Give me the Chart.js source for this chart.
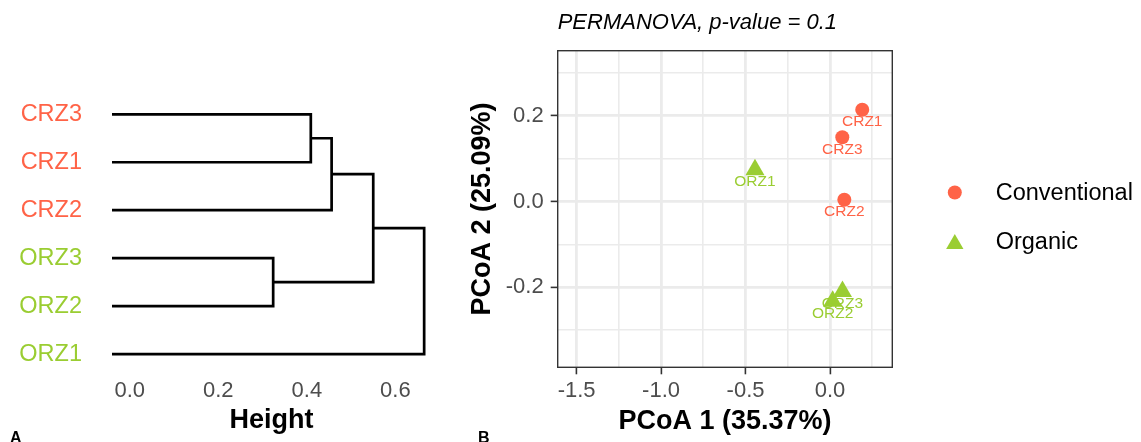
<!DOCTYPE html>
<html>
<head>
<meta charset="utf-8">
<script src="https://cdn.jsdelivr.net/npm/chart.js@4.4.1/dist/chart.umd.min.js"></script>
<style>
  html, body { margin: 0; padding: 0; background: #fff; }
  #wrap { position: relative; width: 1141px; height: 442px; overflow: hidden; }
  canvas { position: absolute; top: 0; }
  #dendro { left: 0; }
  #pcoa { left: 470px; }
</style>
</head>
<body>
<div id="wrap">
  <canvas id="dendro" width="470" height="442"></canvas>
  <canvas id="pcoa" width="671" height="442"></canvas>
</div>
<script>
const FONT = '"Liberation Sans", Arial, Helvetica, sans-serif';
const groupColors = { Conventional: '#FF6347', Organic: '#9ACD32' };

// Panel A: dendrogram, leaves listed top to bottom
const leafNames = ['CRZ3', 'CRZ1', 'CRZ2', 'ORZ3', 'ORZ2', 'ORZ1'];
const leafGroups = ['Conventional', 'Conventional', 'Conventional', 'Organic', 'Organic', 'Organic'];
const leafHeight = -0.04;
// hclust style merge table: negative = leaf number, positive = earlier merge
const mergeLeft = [-1, 1, -4, 2, 4];
const mergeRight = [-2, -3, -5, 3, -6];
const mergeHeights = [0.409, 0.456, 0.324, 0.550, 0.665];
const heightTicks = [0, 0.2, 0.4, 0.6];

// Panel B: PCoA
const sampleNames = ['CRZ1', 'CRZ2', 'CRZ3', 'ORZ1', 'ORZ2', 'ORZ3'];
const sampleGroups = ['Conventional', 'Conventional', 'Conventional', 'Organic', 'Organic', 'Organic'];
const pcoa1 = [0.191, 0.085, 0.073, -0.444, 0.016, 0.074];
const pcoa2 = [0.214, 0.004, 0.150, 0.074, -0.233, -0.210];
const groupNames = ['Conventional', 'Organic'];
const groupShapes = ['circle', 'triangle'];
const groupSizes = [7, 11];
const pc1Breaks = [-1.5, -1.0, -0.5, 0.0];
const pc1Minor = [-1.25, -0.75, -0.25, 0.25];
const pc2Breaks = [-0.2, 0.0, 0.2];
const pc2Minor = [-0.3, -0.1, 0.1, 0.3];

const isBreak = (list, v) => list.some(b => Math.abs(b - v) < 1e-9);

// ---- dendrogram segments from the merge table ----
const nLeaves = leafNames.length;
const nodeY = [];
function childPos(id) {
  if (id < 0) return { x: leafHeight, y: nLeaves + 1 + id };
  return { x: mergeHeights[id - 1], y: nodeY[id - 1] };
}
const dendroSets = mergeHeights.map((h, i) => {
  const a = childPos(mergeLeft[i]);
  const b = childPos(mergeRight[i]);
  nodeY[i] = (a.y + b.y) / 2;
  return {
    data: [{ x: a.x, y: a.y }, { x: h, y: a.y }, { x: h, y: b.y }, { x: b.x, y: b.y }],
    showLine: true,
    pointRadius: 0,
    borderColor: '#000',
    borderWidth: 2.7,
    tension: 0,
    fill: false,
    clip: false
  };
});

const panelTag = (tag, x) => ({
  id: 'tag' + tag,
  afterDraw(chart) {
    const ctx = chart.ctx;
    ctx.save();
    ctx.font = 'bold 16px ' + FONT;
    ctx.fillStyle = '#000';
    ctx.textAlign = 'left';
    ctx.textBaseline = 'alphabetic';
    ctx.fillText(tag, x, 443);
    ctx.restore();
  }
});

new Chart(document.getElementById('dendro'), {
  type: 'scatter',
  data: { datasets: dendroSets },
  options: {
    responsive: false,
    animation: false,
    layout: { padding: { top: 90.3, right: 39.2, left: 0, bottom: 0 } },
    plugins: { legend: { display: false }, tooltip: { enabled: false } },
    scales: {
      x: {
        type: 'linear',
        min: -0.04,
        max: 0.68,
        afterBuildTicks: s => { s.ticks = heightTicks.map(v => ({ value: v })); },
        afterFit: s => { s.height = 64; },
        ticks: {
          callback: v => v.toFixed(1),
          color: '#4D4D4D',
          font: { family: FONT, size: 22 },
          padding: 0,
          maxRotation: 0
        },
        grid: { display: false, drawTicks: false },
        border: { display: false },
        title: {
          display: true,
          text: 'Height',
          color: '#000',
          font: { family: FONT, size: 27, weight: 'bold', lineHeight: 1 },
          padding: { top: 0, bottom: 7.7 }
        }
      },
      y: {
        type: 'linear',
        min: 0.5,
        max: nLeaves + 0.5,
        afterBuildTicks: s => { s.ticks = leafNames.map((n, i) => ({ value: nLeaves - i })); },
        afterFit: s => { s.width = 112; },
        ticks: {
          callback: v => leafNames[nLeaves - v],
          color: c => groupColors[leafGroups[nLeaves - c.tick.value]],
          font: { family: FONT, size: 23.5 },
          padding: 30
        },
        grid: { display: false, drawTicks: false },
        border: { display: false }
      }
    }
  },
  plugins: [panelTag('A', 10)]
});

// ---- PCoA scatter ----
const pcoaSets = groupNames.map((g, gi) => ({
  label: g,
  data: sampleNames
    .map((n, i) => ({ x: pcoa1[i], y: pcoa2[i], name: n, group: sampleGroups[i] }))
    .filter(p => p.group === g),
  pointStyle: groupShapes[gi],
  pointRadius: groupSizes[gi],
  pointHoverRadius: groupSizes[gi],
  pointBackgroundColor: groupColors[g],
  pointBorderWidth: 0,
  borderWidth: 0
}));

const pointLabels = {
  id: 'pointLabels',
  afterDatasetsDraw(chart) {
    const ctx = chart.ctx;
    ctx.save();
    ctx.font = '15.5px ' + FONT;
    ctx.textAlign = 'center';
    ctx.textBaseline = 'middle';
    chart.data.datasets.forEach((ds, i) => {
      ctx.fillStyle = groupColors[ds.label];
      chart.getDatasetMeta(i).data.forEach((el, j) => {
        ctx.fillText(ds.data[j].name, el.x, el.y + 12.3);
      });
    });
    ctx.restore();
  }
};

const panelDecor = {
  id: 'panelDecor',
  afterDraw(chart) {
    const { ctx, chartArea: a } = chart;
    ctx.save();
    // panel border
    ctx.strokeStyle = '#333333';
    ctx.lineWidth = 1.4;
    ctx.strokeRect(a.left, a.top, a.right - a.left, a.bottom - a.top);
    // title
    ctx.font = 'italic 22px ' + FONT;
    ctx.fillStyle = '#000';
    ctx.textAlign = 'left';
    ctx.textBaseline = 'middle';
    ctx.fillText('PERMANOVA, p-value = 0.1', a.left, a.top - 28);
    // legend
    const mid = (a.top + a.bottom) / 2;
    chart.data.datasets.forEach((ds, i) => {
      const cy = mid - 16.5 + i * 49;
      const cx = a.right + 62.5;
      ctx.fillStyle = groupColors[ds.label];
      ctx.beginPath();
      if (ds.pointStyle === 'triangle') {
        const r = 10;
        ctx.moveTo(cx, cy - 0.75 * r);
        ctx.lineTo(cx + r * Math.sqrt(3) / 2, cy + 0.75 * r);
        ctx.lineTo(cx - r * Math.sqrt(3) / 2, cy + 0.75 * r);
        ctx.closePath();
      } else {
        ctx.arc(cx, cy, 7, 0, Math.PI * 2);
      }
      ctx.fill();
      ctx.font = '23.5px ' + FONT;
      ctx.fillStyle = '#000';
      ctx.fillText(ds.label, a.right + 103.4, cy + 0.8);
    });
    ctx.restore();
  }
};

const gridOpts = (breaks) => ({
  color: '#EBEBEB',
  lineWidth: c => (c.tick && isBreak(breaks, c.tick.value)) ? 2.8 : 1.6,
  tickColor: c => (c.tick && isBreak(breaks, c.tick.value)) ? '#333333' : 'rgba(0,0,0,0)',
  tickWidth: c => (c.tick && isBreak(breaks, c.tick.value)) ? 1.6 : 0,
  tickLength: 7,
  drawTicks: true
});

new Chart(document.getElementById('pcoa'), {
  type: 'scatter',
  data: { datasets: pcoaSets },
  options: {
    responsive: false,
    animation: false,
    layout: { padding: { top: 50.7, right: 248.7, left: 0, bottom: 0 } },
    plugins: { legend: { display: false }, tooltip: { enabled: false } },
    scales: {
      x: {
        type: 'linear',
        min: -1.612,
        max: 0.369,
        afterBuildTicks: s => {
          s.ticks = pc1Breaks.concat(pc1Minor).sort((p, q) => p - q).map(v => ({ value: v }));
        },
        afterFit: s => { s.height = 74.7; },
        ticks: {
          callback: v => isBreak(pc1Breaks, v) ? v.toFixed(1) : '',
          color: '#4D4D4D',
          font: { family: FONT, size: 22 },
          padding: 3,
          maxRotation: 0,
          autoSkip: false
        },
        grid: gridOpts(pc1Breaks),
        border: { display: false },
        title: {
          display: true,
          text: 'PCoA 1 (35.37%)',
          color: '#000',
          font: { family: FONT, size: 27, weight: 'bold', lineHeight: 1 },
          padding: { top: 0, bottom: 7 }
        }
      },
      y: {
        type: 'linear',
        min: -0.387,
        max: 0.352,
        afterBuildTicks: s => {
          s.ticks = pc2Breaks.concat(pc2Minor).sort((p, q) => p - q).map(v => ({ value: v }));
        },
        afterFit: s => { s.width = 87.7; },
        ticks: {
          callback: v => isBreak(pc2Breaks, v) ? v.toFixed(1) : '',
          color: '#4D4D4D',
          font: { family: FONT, size: 22 },
          padding: 7,
          autoSkip: false
        },
        grid: gridOpts(pc2Breaks),
        border: { display: false },
        title: {
          display: true,
          text: 'PCoA 2 (25.09%)',
          color: '#000',
          font: { family: FONT, size: 27, weight: 'bold', lineHeight: 1 },
          padding: { top: -1, bottom: 0 }
        }
      }
    }
  },
  plugins: [pointLabels, panelDecor, panelTag('B', 8)]
});
</script>
</body>
</html>
